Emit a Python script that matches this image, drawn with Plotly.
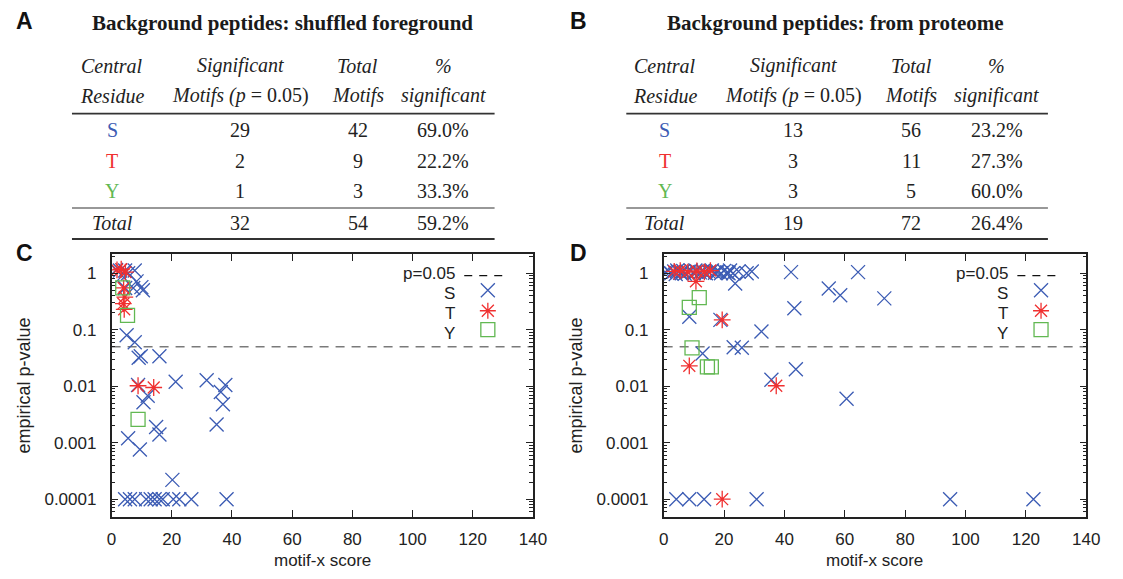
import plotly.graph_objects as go

# Page has an 8px body margin; the figure is sized so the page is exactly 1123x579.
PAGE_W, PAGE_H = 1123, 579
OFF = 8
W, H = PAGE_W - 2 * OFF, PAGE_H - 2 * OFF

# ---------------- table data ----------------
TITLE_A = "Background peptides: shuffled foreground"
TITLE_B = "Background peptides: from proteome"
header_top = ["<i>Central</i>", "<i>Significant</i>", "<i>Total</i>", "<i>%</i>"]
header_bot = ["<i>Residue</i>", "<i>Motifs (p</i> = 0.05)", "<i>Motifs</i>", "<i>significant</i>"]
residues = ["S", "T", "Y"]
residue_colors = ["#3c5cb4", "#f03030", "#62b852"]

A_sig = [29, 2, 1]
A_total = [42, 9, 3]
A_pct = ["69.0%", "22.2%", "33.3%"]
A_sum = ["32", "54", "59.2%"]

B_sig = [13, 3, 3]
B_total = [56, 11, 5]
B_pct = ["23.2%", "27.3%", "60.0%"]
B_sum = ["19", "72", "26.4%"]

# ---------------- scatter data (motif-x score, empirical p-value) ----------------
C_S_x = [1.5, 2.8, 4.5, 5.5, 7.7, 3.5, 8.3, 4.5, 7.2, 9.9, 10.4, 5.0, 7.7,
         9.0, 9.7, 15.9, 8.8, 12.0, 10.6, 21.3, 31.6, 37.8, 36.3, 37.0, 34.9, 14.8, 15.9,
         5.5, 9.4, 20.2,
         4.5, 6.1, 7.7, 11.5, 14.3, 15.9, 17.0, 20.5, 22.5, 26.5, 38.2, 13.0]
C_S_p = [1.15, 1.12, 1.12, 1.0, 1.12, 0.9, 0.72, 0.55, 0.55, 0.57, 0.5, 0.08, 0.06,
         0.032, 0.034, 0.034, 0.0105, 0.0068, 0.0052, 0.012, 0.0128, 0.0105, 0.0079, 0.0048, 0.0021, 0.0019, 0.0014,
         0.0012, 0.00076, 0.00022,
         0.0001, 0.0001, 0.0001, 0.0001, 0.0001, 0.0001, 0.0001, 0.0001, 0.0001, 0.0001, 0.0001, 0.0001]

C_T_x = [1.8, 3.2, 4.6, 4.0, 4.4, 3.9, 4.2, 8.8, 14.0]
C_T_p = [1.15, 1.18, 1.05, 0.55, 0.38, 0.29, 0.23, 0.0102, 0.0095]

C_Y_x = [3.7, 5.3, 8.8]
C_Y_p = [0.55, 0.18, 0.0026]

D_S_x = [0.5, 1.5, 2.5, 3.5, 4.5, 5.5, 6.5, 7.0, 8.0, 9.0, 10.0, 11.0, 12.0, 13.0, 14.0, 15.0,
         16.0, 17.0, 18.0, 19.0, 20.0, 21.0, 22.0, 23.0, 24.8, 27.5, 29.2, 4.0, 6.0, 10.5, 13.5, 17.5, 21.5,
         42.2, 64.4, 54.7, 58.5, 73.1, 43.3, 8.5, 18.8, 32.4, 23.7,
         12.9, 35.7, 43.8, 60.6, 23.2, 25.9,
         4.2, 8.5, 13.4, 30.8, 94.9, 122.5]
D_S_p = [1.05, 1.1, 1.0, 1.08, 1.12, 1.02, 1.1, 0.98, 1.06, 1.12, 1.0, 1.08, 1.04, 1.1, 1.0, 1.06,
         1.12, 1.02, 1.08, 1.0, 1.1, 1.04, 1.12, 1.0, 1.08, 1.0, 1.08, 0.97, 1.0, 1.12, 1.02, 1.06, 1.0,
         1.05, 1.05, 0.54, 0.41, 0.36, 0.24, 0.17, 0.15, 0.093, 0.66,
         0.038, 0.013, 0.02, 0.006, 0.049, 0.048,
         0.0001, 0.0001, 0.0001, 0.0001, 0.0001, 0.0001]

D_T_x = [3.5, 5.5, 8.0, 11.0, 13.5, 15.5, 10.7, 19.4, 8.5, 37.3, 19.4]
D_T_p = [1.08, 1.12, 1.05, 1.1, 1.06, 1.12, 0.72, 0.15, 0.023, 0.0102, 0.0001]

D_Y_x = [11.8, 8.5, 9.4, 14.5, 15.8]
D_Y_p = [0.37, 0.25, 0.048, 0.022, 0.022]

P_THRESHOLD = 0.05
X_RANGE = [0, 140]
Y_TICKVALS = [0.0001, 0.001, 0.01, 0.1, 1]
Y_TICKTEXT = ["0.0001", "0.001", "0.01", "0.1", "1"]
X_TICKVALS = [0, 20, 40, 60, 80, 100, 120, 140]
Y_MINOR = [m * 10.0 ** e for e in range(-5, 1) for m in range(2, 10)]

BLUE, RED, GREEN = "#3c5cb4", "#f03030", "#62b852"
DARK = "#222222"


def px(x):
    return (x - OFF) / W


def py(y):
    return 1 - (y - OFF) / H


fig = go.Figure()

# ---------------- layout geometry (page pixels) ----------------
C_X0, C_X1 = 108.3, 537.0
D_X0, D_X1 = 670.0, 1100.0
P_Y0, P_Y1 = 254.0, 516.7

panels = [
    dict(xa="x", ya="y", S=(C_S_x, C_S_p), T=(C_T_x, C_T_p), Y=(C_Y_x, C_Y_p), x0=C_X0, x1=C_X1),
    dict(xa="x2", ya="y2", S=(D_S_x, D_S_p), T=(D_T_x, D_T_p), Y=(D_Y_x, D_Y_p), x0=D_X0, x1=D_X1),
]

for pnl in panels:
    fig.add_trace(go.Scatter(x=X_RANGE, y=[P_THRESHOLD, P_THRESHOLD], mode="lines",
                             line=dict(color="#7a7a7a", width=1.5, dash="9px,7px"),
                             xaxis=pnl["xa"], yaxis=pnl["ya"], showlegend=False, hoverinfo="skip"))
    fig.add_trace(go.Scatter(x=pnl["S"][0], y=pnl["S"][1], mode="markers", name="S",
                             marker=dict(symbol="x-thin-open", size=14, color=BLUE,
                                         line=dict(color=BLUE, width=1.3)),
                             xaxis=pnl["xa"], yaxis=pnl["ya"], showlegend=False))
    fig.add_trace(go.Scatter(x=pnl["T"][0], y=pnl["T"][1], mode="markers", name="T",
                             marker=dict(symbol="asterisk-open", size=14, color=RED,
                                         line=dict(color=RED, width=1.3)),
                             xaxis=pnl["xa"], yaxis=pnl["ya"], showlegend=False))
    fig.add_trace(go.Scatter(x=pnl["Y"][0], y=pnl["Y"][1], mode="markers", name="Y",
                             marker=dict(symbol="square-open", size=14, color=GREEN,
                                         line=dict(color=GREEN, width=1.3)),
                             xaxis=pnl["xa"], yaxis=pnl["ya"], showlegend=False))

axis_common = dict(showline=True, linecolor=DARK, linewidth=1.5, mirror="ticks",
                   ticks="inside", tickcolor=DARK, tickwidth=1.2, showgrid=False, zeroline=False,
                   tickfont=dict(family="Liberation Sans, Arial", size=17, color=DARK))

xcommon = dict(axis_common, range=X_RANGE, tickvals=X_TICKVALS, ticklen=7, ticklabelstandoff=6)
ycommon = dict(axis_common, type="log", range=[-4.31, 0.342], tickvals=Y_TICKVALS,
               ticktext=Y_TICKTEXT, ticklen=7, ticklabelstandoff=10,
               minor=dict(ticks="inside", tickmode="array", tickvals=Y_MINOR, ticklen=4,
                          tickcolor=DARK, tickwidth=1, showgrid=False))

fig.update_layout(
    width=W, height=H, autosize=False,
    margin=dict(l=0, r=0, t=0, b=0),
    paper_bgcolor="white", plot_bgcolor="white",
    showlegend=False,
    xaxis=dict(xcommon, domain=[px(C_X0), px(C_X1)], anchor="y"),
    yaxis=dict(ycommon, domain=[py(P_Y1), py(P_Y0)], anchor="x"),
    xaxis2=dict(xcommon, domain=[px(D_X0), px(D_X1)], anchor="y2"),
    yaxis2=dict(ycommon, domain=[py(P_Y1), py(P_Y0)], anchor="x2"),
)

annotations = []
shapes = []

SANS = "Liberation Sans, Arial"
SERIF = "Liberation Serif, Times New Roman"


def ann(text, x, y, size, family, color=DARK, xanchor="center", yanchor="middle", **kw):
    d = dict(text=text, x=px(x), y=py(y), xref="paper", yref="paper", showarrow=False,
             xanchor=xanchor, yanchor=yanchor, font=dict(size=size, family=family, color=color))
    d.update(kw)
    annotations.append(d)


# panel letters
ann("<b>A</b>", 20, 21, 23, SANS, color="#111")
ann("<b>B</b>", 583, 21, 23, SANS, color="#111")
ann("<b>C</b>", 20, 253, 23, SANS, color="#111")
ann("<b>D</b>", 583, 253, 23, SANS, color="#111")

# tables
tables = [
    dict(title=TITLE_A, tx=282, cols=[109, 239, 359, 446], rule=(68, 498),
         sig=A_sig, tot=A_total, pct=A_pct, sums=A_sum),
    dict(title=TITLE_B, tx=845, cols=[671, 802, 922, 1009], rule=(632, 1061),
         sig=B_sig, tot=B_total, pct=B_pct, sums=B_sum),
]
ROW_Y = [130, 160.5, 191]
for t in tables:
    ann("<b>" + t["title"] + "</b>", t["tx"], 23, 21, SERIF, color="#1a1a1a")
    for c, (h1, h2) in enumerate(zip(header_top, header_bot)):
        ann(h1, t["cols"][c], 66, 20, SERIF)
        ann(h2, t["cols"][c], 96, 20, SERIF)
    for r, res in enumerate(residues):
        ann(res, t["cols"][0], ROW_Y[r], 20, SERIF, color=residue_colors[r])
        ann(str(t["sig"][r]), t["cols"][1], ROW_Y[r], 20, SERIF)
        ann(str(t["tot"][r]), t["cols"][2], ROW_Y[r], 20, SERIF)
        ann(t["pct"][r], t["cols"][3], ROW_Y[r], 20, SERIF)
    ann("<i>Total</i>", t["cols"][0], 223, 20, SERIF)
    for c in range(3):
        ann(t["sums"][c], t["cols"][c + 1], 223, 20, SERIF)
    for yy, lw in [(113.6, 1.8), (208, 1.2), (239, 1.8)]:
        shapes.append(dict(type="line", xref="paper", yref="paper", x0=px(t["rule"][0]), x1=px(t["rule"][1]),
                           y0=py(yy), y1=py(yy), line=dict(color="#333", width=lw)))

# axis titles
for pnl in panels:
    cx = (pnl["x0"] + pnl["x1"]) / 2
    ann("motif-x score", cx, 560.5, 17, SANS)
    ann("empirical p-value", pnl["x0"] - 89, (P_Y0 + P_Y1) / 2, 18, SANS, textangle=-90)

# legends (in axis-domain coordinates)
LEG_TEXT_X = 0.82
LEG_KEY_X = 0.893
LEG_TEXT_ROWS = [0.9265, 0.851, 0.775, 0.699]
LEG_KEY_ROWS = [0.918, 0.862, 0.784, 0.712]
LEG_LABELS = ["p=0.05", "S", "T", "Y"]
for pnl in panels:
    xr = pnl["xa"] + " domain"
    yr = pnl["ya"] + " domain"
    for lab, yy in zip(LEG_LABELS, LEG_TEXT_ROWS):
        annotations.append(dict(text=lab, x=LEG_TEXT_X, y=yy, xref=xr, yref=yr, showarrow=False,
                                xanchor="right", yanchor="middle",
                                font=dict(size=17, family=SANS, color=DARK)))
    shapes.append(dict(type="line", xref=xr, yref=yr, x0=0.837, x1=0.937,
                       y0=LEG_KEY_ROWS[0], y1=LEG_KEY_ROWS[0],
                       line=dict(color="#111", width=1.3, dash="8px,7px")))
    key_paths = [
        ("M-7,-7L7,7M-7,7L7,-7", BLUE, LEG_KEY_ROWS[1]),
        ("M-8,0L8,0M0,-8L0,8M-6,-6L6,6M-6,6L6,-6", RED, LEG_KEY_ROWS[2]),
        ("M-7,-7L7,-7L7,7L-7,7Z", GREEN, LEG_KEY_ROWS[3]),
    ]
    for path, col, yy in key_paths:
        shapes.append(dict(type="path", path=path, xref=xr, yref=yr, xsizemode="pixel", ysizemode="pixel",
                           xanchor=LEG_KEY_X, yanchor=yy, line=dict(color=col, width=1.3)))

fig.update_layout(annotations=annotations, shapes=shapes)
fig.write_html("out.html")
